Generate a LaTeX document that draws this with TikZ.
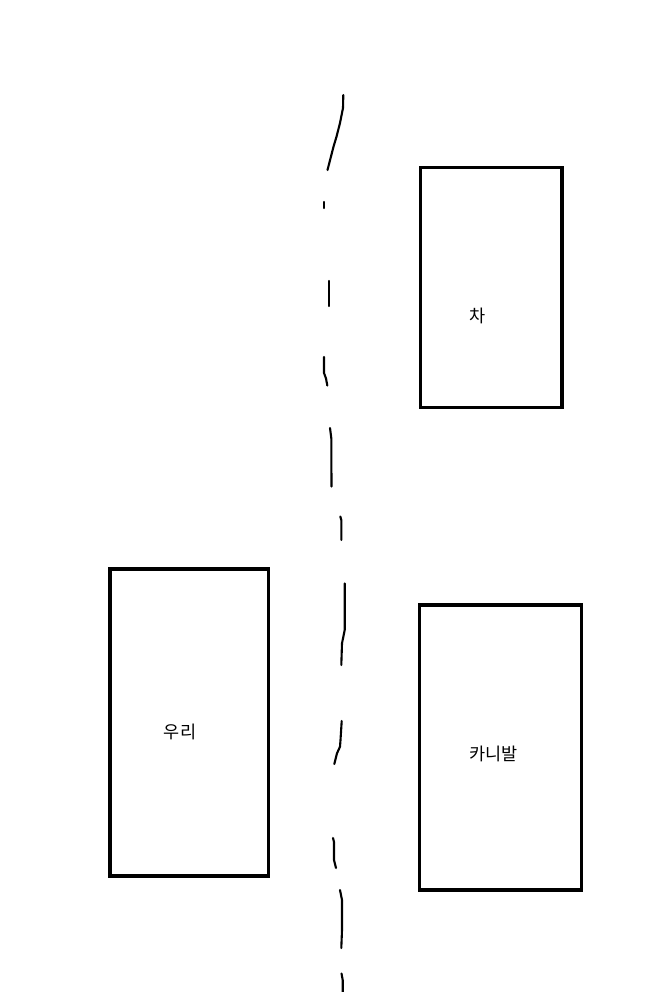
\documentclass[tikz,border=0pt]{standalone}
\usepackage{fontspec}
\newfontfamily\kr{Noto Sans CJK KR}
\begin{document}
\begin{tikzpicture}[x=1pt,y=-1pt,
  carbox/.style={draw=black,line width=3.4pt,fill=none},
  lbl/.style={font=\kr\fontsize{17.5}{19}\selectfont,text=black,inner sep=0pt},
  lane/.style={draw=black,line width=2.1pt,line cap=round,line join=round}]
\useasboundingbox[fill=white] (0,0) rectangle (670,992);
% boxes
\draw[carbox] (420.5,167.5) rectangle (562,407.5);
\node[lbl] (cha) at (478,316) {차};
\draw[carbox] (110,569) rectangle (268.5,876);
\node[lbl] (uri) at (180,732) {우리};
\draw[carbox] (419.5,605) rectangle (581.5,890);
\node[lbl] (carnival) at (493.5,754) {카니발};
% hand-drawn lane divider
\draw[lane] (343.3,95) -- (343,108) -- (340,123) -- (336.5,136.7) -- (333.5,146.7) -- (327.5,170);
\draw[lane] (324,202) -- (324,208);
\draw[lane] (328.7,281) -- (328.7,306);
\draw[lane] (324,357) -- (324,373) -- (326,378.5) -- (327.3,385.5);
\draw[lane] (330,428) -- (331.3,438.3) -- (331.5,486.5);
\draw[lane] (340.3,516.5) -- (341.3,520) -- (341.3,540);
\draw[lane] (344.7,583.5) -- (344.7,630) -- (342,643.3) -- (341.3,665);
\draw[lane] (341.7,721) -- (340.5,740) -- (340,746.7) -- (337,753.3) -- (334.3,764);
\draw[lane] (333,838) -- (334,842) -- (334,860) -- (336,868);
\draw[lane] (340,890) -- (342,900) -- (342,930) -- (341.3,948);
\draw[lane] (341.5,973.5) -- (342.7,980) -- (342.7,992);
\end{tikzpicture}
\end{document}
